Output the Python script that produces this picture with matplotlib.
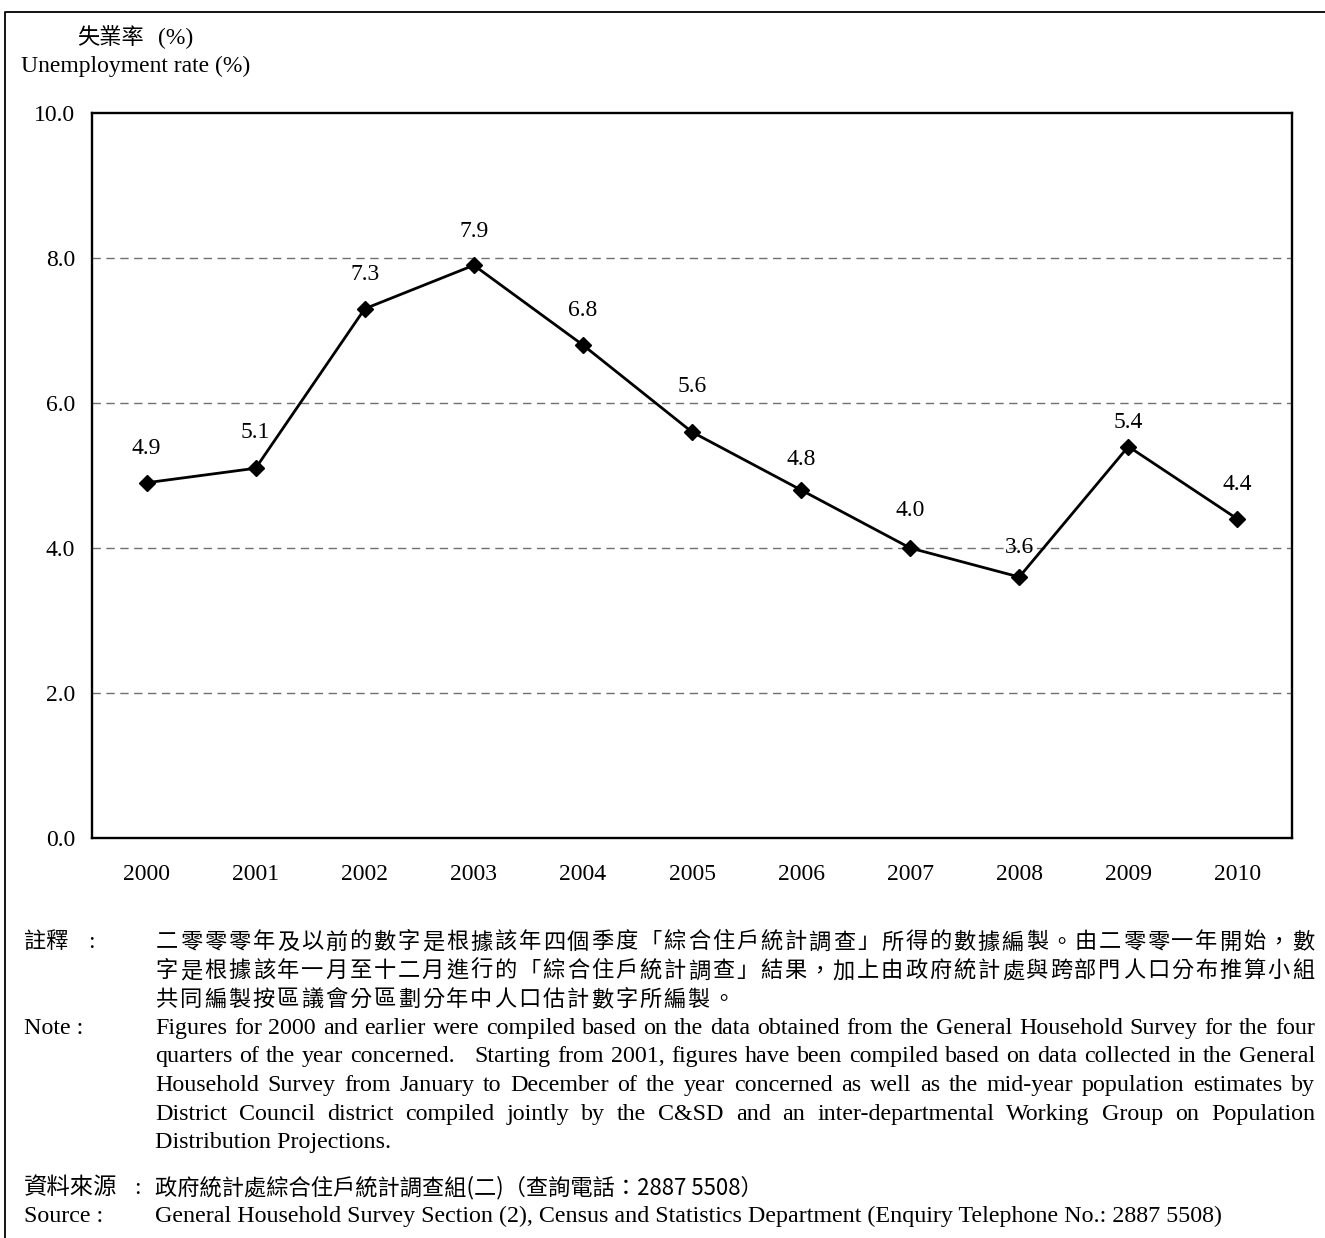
import re
import matplotlib
matplotlib.use("Agg")
import matplotlib.pyplot as plt
from matplotlib.lines import Line2D

# ------------- Data -------------
years = ["2000", "2001", "2002", "2003", "2004", "2005",
         "2006", "2007", "2008", "2009", "2010"]
rates = [4.9, 5.1, 7.3, 7.9, 6.8, 5.6, 4.8, 4.0, 3.6, 5.4, 4.4]
yticks = [0.0, 2.0, 4.0, 6.0, 8.0, 10.0]

note_zh = [
    "二零零零年及以前的數字是根據該年四個季度「綜合住戶統計調查」所得的數據編製。由二零零一年開始，數",
    "字是根據該年一月至十二月進行的「綜合住戶統計調查」結果，加上由政府統計處與跨部門人口分布推算小組",
    "共同編製按區議會分區劃分年中人口估計數字所編製。",
]
note_en = [
    "Figures for 2000 and earlier were compiled based on the data obtained from the General Household Survey for the four",
    "quarters of the year concerned.   Starting from 2001, figures have been compiled based on data collected in the General",
    "Household Survey from January to December of the year concerned as well as the mid-year population estimates by",
    "District Council district compiled jointly by the C&SD and an inter-departmental Working Group on Population",
    "Distribution Projections.",
]
source_zh = "政府統計處綜合住戶統計調查組(二)（查詢電話：2887 5508）"
source_en = "General Household Survey Section (2), Census and Statistics Department (Enquiry Telephone No.: 2887 5508)"

# ------------- Style -------------
W, H = 1325, 1238
SERIF = ["Liberation Serif", "Noto Sans CJK TC"]
CJK = ["Noto Sans CJK TC", "Liberation Serif"]
FS = 17
FS_NOTE = 17.3
FS_ZH = 16
plt.rcParams["font.family"] = SERIF

fig = plt.figure(figsize=(W / 100, H / 100), dpi=100)


def fx(x):
    return x / W


def fy(y):
    return 1 - y / H


# page frame: only the left and top edges fall inside the picture
fig.lines.append(Line2D([fx(5), fx(5), fx(1325)], [fy(1238), fy(12), fy(12)],
                        transform=fig.transFigure, color="black", linewidth=1.3))

ax = fig.add_axes([fx(92), fy(838), fx(1292) - fx(92), fy(113) - fy(838)])
x = list(range(len(years)))
ax.plot(x, rates, color="black", linewidth=2.0, marker="D", markersize=8.5, zorder=3)

# value labels
label_dy = [25, 26, 25, 24, 25, 33, 22, 27, 21, 17, 25]  # points above marker
for xi, v, dy in zip(x, rates, label_dy):
    ax.annotate(f"{v:.1f}", (xi, v), xytext=(0, dy), textcoords="offset points",
                ha="center", va="center", fontsize=FS)

ax.set_xlim(-0.5, len(years) - 0.5)
ax.set_ylim(0, 10)
ax.set_yticks(yticks)
ax.set_yticklabels([f"{v:.1f}" for v in yticks], fontsize=FS)
ax.set_xticks(x)
ax.set_xticklabels(years, fontsize=FS)
ax.tick_params(axis="y", length=0, pad=12)
ax.tick_params(axis="x", length=0, pad=19)
for v in yticks[1:-1]:
    ax.axhline(v, color="#707070", linewidth=1.0, linestyle=(0, (6, 4)), zorder=1)
for s in ax.spines.values():
    s.set_linewidth(1.7)

# axis titles
fig.text(fx(77), fy(38), "失業率", family=CJK, fontsize=FS_ZH, va="center")
fig.text(fx(158), fy(38), "(%)", fontsize=FS, va="center")
fig.text(fx(21), fy(66), "Unemployment rate (%)", fontsize=FS, va="center")

renderer = fig.canvas.get_renderer()


def justify(line, y, x0, x1, size):
    # spread words so the line fills x0..x1 (the way Word justifies)
    parts = re.findall(r"(\s*)(\S+)", line)
    texts, widths, spaces = [], [], []
    for sp, w in parts:
        t = fig.text(0, fy(y), w, fontsize=size, va="center")
        texts.append(t)
        widths.append(t.get_window_extent(renderer).width)
        spaces.append(len(sp))
    nsp = sum(spaces[1:])
    gap = (x1 - x0 - sum(widths)) / nsp
    cur = x0
    for i, t in enumerate(texts):
        if i > 0:
            cur += spaces[i] * gap
        t.set_x(fx(cur))
        cur += widths[i]


def cjk_line(line, y, x0, pitch, size):
    for i, ch in enumerate(line):
        fig.text(fx(x0 + (i + 0.5) * pitch), fy(y), ch, family=CJK,
                 fontsize=size, ha="center", va="center")


# ------------- Notes -------------
X0, X1 = 155, 1315
PITCH = (X1 - X0) / len(note_zh[0])
LS = 28.7  # line step in the notes

fig.text(fx(24), fy(942), "註釋", family=CJK, fontsize=FS_ZH, va="center")
fig.text(fx(88), fy(942), ":", fontsize=FS, va="center")
for i, line in enumerate(note_zh):
    cjk_line(line, 942 + i * LS, X0, PITCH, FS_ZH)

y_note = 942 + 3 * LS
fig.text(fx(24), fy(y_note), "Note :", fontsize=FS_NOTE, va="center")
for i, line in enumerate(note_en):
    yy = y_note + i * LS
    if i < len(note_en) - 1:
        justify(line, yy, X0, X1, FS_NOTE)
    else:
        fig.text(fx(X0), fy(yy), line, fontsize=FS_NOTE, va="center")

fig.text(fx(24), fy(1188), "資料來源", family=CJK, fontsize=FS_ZH + 0.8, va="center")
fig.text(fx(134), fy(1188), ":", fontsize=FS, va="center")
fig.text(fx(X0), fy(1188), source_zh, family=CJK, fontsize=FS_ZH, va="center")
fig.text(fx(24), fy(1216), "Source :", fontsize=FS_NOTE, va="center")
fig.text(fx(X0), fy(1216), source_en, fontsize=FS_NOTE, va="center")

fig.savefig("out.png", dpi=100)
